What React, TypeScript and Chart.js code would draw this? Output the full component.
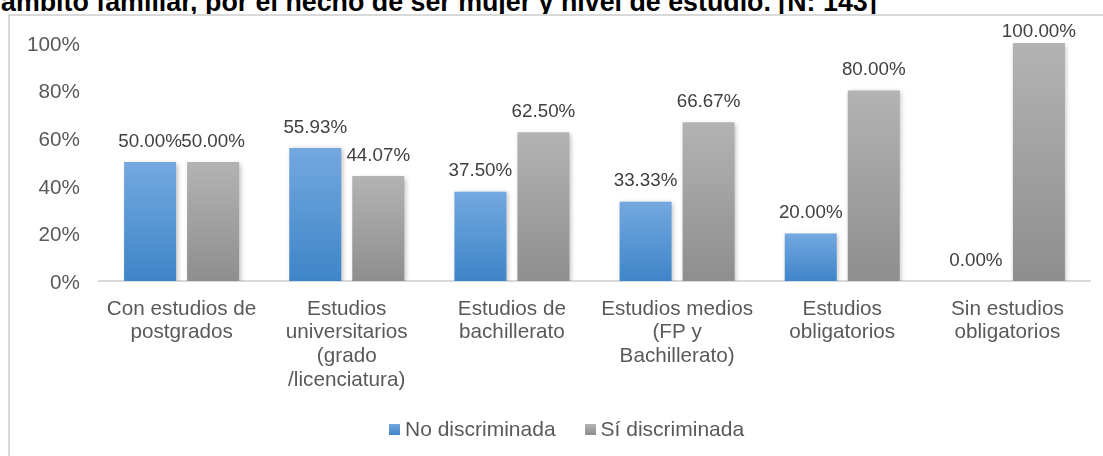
import React, { useEffect, useRef } from 'react';
import { Chart, registerables } from 'chart.js';

Chart.register(...registerables);

const titleText = 'ámbito familiar, por el hecho de ser mujer y nivel de estudio. [N: 143]';
const categories: string[][] = [
  ['Con estudios de', 'postgrados'],
  ['Estudios', 'universitarios', '(grado', '/licenciatura)'],
  ['Estudios de', 'bachillerato'],
  ['Estudios medios', '(FP y', 'Bachillerato)'],
  ['Estudios', 'obligatorios'],
  ['Sin estudios', 'obligatorios'],
];
const seriesNames = ['No discriminada', 'Sí discriminada'];
const noDiscriminada = [50, 55.93, 37.5, 33.33, 20, 0];
const siDiscriminada = [50, 44.07, 62.5, 66.67, 80, 100];
const yTickValues = [0, 20, 40, 60, 80, 100];

const FONT = "'Liberation Sans', Arial, Helvetica, sans-serif";
const BLUE_TOP = '#74a8e0';
const BLUE_BOTTOM = '#3e85c8';
const GRAY_TOP = '#b3b3b3';
const GRAY_BOTTOM = '#8e8e8e';

function barGradient(top: string, bottom: string) {
  return (c: any) => {
    const chart = c.chart;
    if (!chart.chartArea || c.type !== 'data') return bottom;
    const yScale = chart.scales.y;
    const yTop = yScale.getPixelForValue(c.raw);
    const yBot = yScale.getPixelForValue(0);
    if (yBot - yTop < 1) return bottom;
    const g = chart.ctx.createLinearGradient(0, yTop, 0, yBot);
    g.addColorStop(0, top);
    g.addColorStop(1, bottom);
    return g;
  };
}

const shadowAndLabels = {
  id: 'shadowAndLabels',
  beforeDatasetsDraw(chart: any) {
    const ctx = chart.ctx;
    ctx.save();
    ctx.shadowColor = 'rgba(0,0,0,0.28)';
    ctx.shadowBlur = 5;
    ctx.shadowOffsetX = 1.5;
    ctx.shadowOffsetY = 1.5;
  },
  afterDatasetsDraw(chart: any) {
    const ctx = chart.ctx;
    ctx.restore();
    ctx.save();
    ctx.font = `18.8px ${FONT}`;
    ctx.fillStyle = '#404040';
    ctx.textAlign = 'center';
    ctx.textBaseline = 'middle';
    const minY = chart.chartArea.top - 11.3;
    chart.data.datasets.forEach((ds: any, di: number) => {
      const meta = chart.getDatasetMeta(di);
      meta.data.forEach((bar: any, i: number) => {
        const v = ds.data[i] as number;
        ctx.fillText(v.toFixed(2) + '%', bar.x, Math.max(bar.y - 20.5, minY));
      });
    });
    ctx.restore();
  },
};

export default function App() {
  const canvasRef = useRef<HTMLCanvasElement | null>(null);

  useEffect(() => {
    if (!canvasRef.current) return;
    const chart = new Chart(canvasRef.current, {
      type: 'bar',
      data: {
        labels: categories,
        datasets: [
          {
            label: seriesNames[0],
            data: noDiscriminada,
            backgroundColor: barGradient(BLUE_TOP, BLUE_BOTTOM),
            categoryPercentage: 0.763,
            barPercentage: 0.825,
          },
          {
            label: seriesNames[1],
            data: siDiscriminada,
            backgroundColor: barGradient(GRAY_TOP, GRAY_BOTTOM),
            categoryPercentage: 0.763,
            barPercentage: 0.825,
          },
        ],
      },
      options: {
        responsive: false,
        animation: false,
        devicePixelRatio: 1,
        layout: { padding: { left: 0, right: 13, top: 27, bottom: 0 } },
        plugins: {
          legend: { display: false },
          tooltip: { enabled: false },
        },
        scales: {
          x: {
            grid: { display: false, drawTicks: false },
            border: { display: true, color: '#d9d9d9', width: 2 },
            ticks: {
              color: '#595959',
              font: { family: FONT, size: 20.7, lineHeight: 1.15 },
              padding: 16,
              maxRotation: 0,
              autoSkip: false,
            },
            afterFit: (s: any) => {
              s.height = 175;
            },
          },
          y: {
            min: 0,
            max: 100,
            afterBuildTicks: (s: any) => {
              s.ticks = yTickValues.map((v) => ({ value: v }));
            },
            grid: { display: false, drawTicks: true, tickLength: 19 },
            border: { display: false },
            ticks: {
              color: '#595959',
              font: { family: FONT, size: 20.7 },
              padding: 0,
              labelOffset: 2,
              callback: (v: any) => `${v}%`,
            },
            afterFit: (s: any) => {
              s.width = 89;
            },
          },
        },
      },
      plugins: [shadowAndLabels],
    });
    return () => chart.destroy();
  }, []);

  const legendItem = (name: string, top: string, bottom: string, extra: any) => (
    <div style={{ display: 'flex', alignItems: 'center', ...extra }}>
      <div
        style={{
          width: 11,
          height: 11,
          background: `linear-gradient(${top}, ${bottom})`,
          marginRight: 5,
        }}
      />
      <span style={{ fontFamily: FONT, fontSize: 21, color: '#595959', lineHeight: '24px' }}>{name}</span>
    </div>
  );

  return (
    <div
      style={{
        position: 'absolute',
        left: 0,
        top: 0,
        width: 1103,
        height: 456,
        overflow: 'hidden',
        background: '#ffffff',
      }}
    >
      <div
        style={{
          position: 'absolute',
          left: 1,
          top: -11,
          fontFamily: FONT,
          fontWeight: 'bold',
          fontSize: 26.8,
          lineHeight: 1,
          whiteSpace: 'nowrap',
          color: '#000000',
        }}
      >
        {titleText}
      </div>
      <div
        style={{
          position: 'absolute',
          left: 8,
          top: 14,
          width: 1200,
          height: 600,
          borderLeft: '2px solid #d9d9d9',
          borderTop: '2px solid #d9d9d9',
          background: '#ffffff',
        }}
      />
      <canvas
        ref={canvasRef}
        width={1093}
        height={440}
        style={{ position: 'absolute', left: 10, top: 16, width: 1093, height: 440 }}
      />
      <div
        style={{
          position: 'absolute',
          left: 389,
          top: 417,
          display: 'flex',
          alignItems: 'center',
        }}
      >
        {legendItem(seriesNames[0], BLUE_TOP, BLUE_BOTTOM, { marginRight: 29 })}
        {legendItem(seriesNames[1], GRAY_TOP, GRAY_BOTTOM, {})}
      </div>
    </div>
  );
}
